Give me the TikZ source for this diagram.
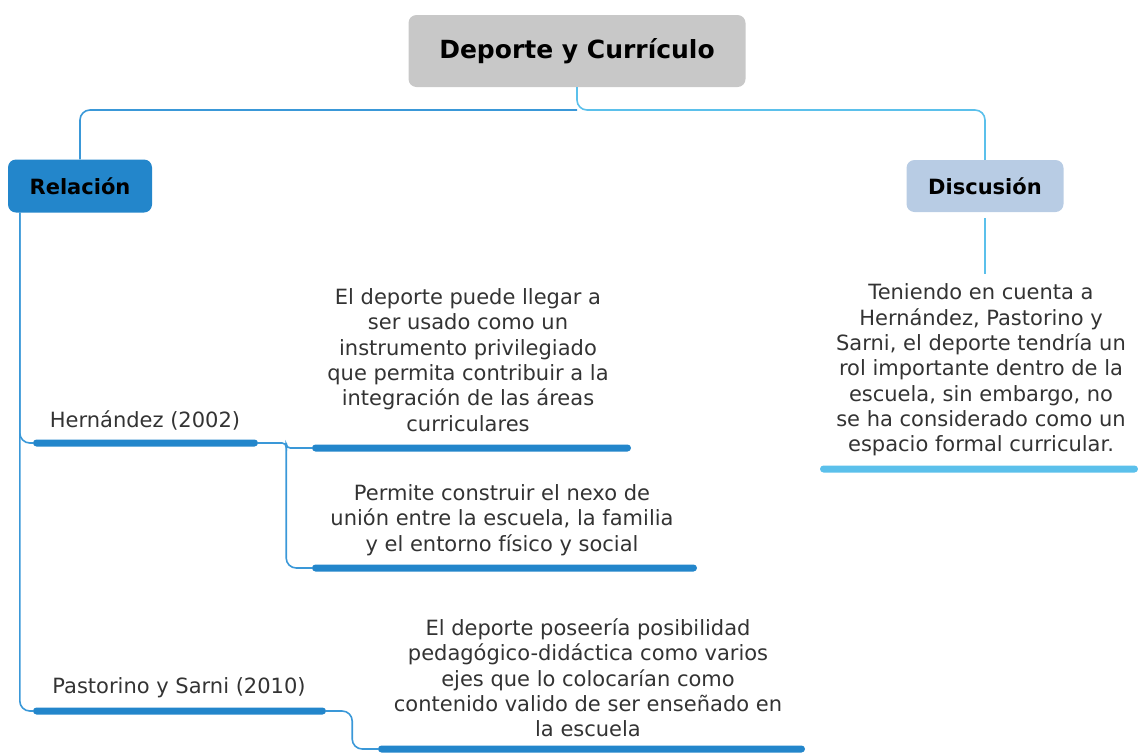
\documentclass[tikz,border=0pt]{standalone}
\usepackage{fontspec}
\setmainfont{DejaVu Sans}
\definecolor{boxgray}{HTML}{C8C8C8}
\definecolor{reldark}{HTML}{2386CB}
\definecolor{dispale}{HTML}{B8CCE4}
\definecolor{linkdark}{HTML}{3A98D8}
\definecolor{linklight}{HTML}{5BC0EB}
\definecolor{txtgray}{HTML}{333333}
\tikzset{
  topic/.style={rounded corners=8pt, inner sep=0pt, text=black,
    font=\bfseries\fontsize{21}{25}\selectfont},
  body/.style={align=center, inner sep=0pt, text=txtgray,
    font=\fontsize{21}{25.3}\selectfont},
  bar/.style={rounded corners=3.5pt, inner sep=0pt, minimum height=7pt},
  dlink/.style={draw=linkdark, line width=1.6pt, rounded corners=10pt},
  llink/.style={draw=linklight, line width=1.6pt, rounded corners=10pt}
}
\begin{document}
\begin{tikzpicture}[x=1pt,y=-1pt]
  \useasboundingbox (0,0) rectangle (1138,753);

  % main boxes
  \node[topic, fill=boxgray, minimum width=337, minimum height=72,
    font=\bfseries\fontsize{25}{29}\selectfont] (root) at (577,51) {Deporte y Currículo};
  \node[topic, fill=reldark, minimum width=144, minimum height=53] (rel) at (80,186) {Relación};
  \node[topic, fill=dispale, minimum width=157, minimum height=52] (dis) at (985,186) {Discusión};

  \coordinate (fork) at (577,110);
  \draw[llink] (root.south) -- (fork) -| (dis.north);
  \draw[dlink] (fork) -| (rel.north);

  % Relacion branch
  \node[body] (hlab) at (145,420) {Hernández (2002)};
  \node[bar, fill=reldark, minimum width=225] (hbar) at (145.5,443) {};
  \node[body] (plab) at (179,688) {Pastorino y Sarni (2010)};
  \node[bar, fill=reldark, minimum width=293] (pbar) at (179.5,711) {};
  \coordinate (relfoot) at ([xshift=12pt]rel.south west);
  \draw[dlink] (relfoot) |- (hbar.west);
  \draw[dlink] (relfoot) |- (pbar.west);

  \node[body] (t1) at (468,360) {El deporte puede llegar a\\ser usado como un\\instrumento privilegiado\\que permita contribuir a la\\integración de las áreas\\curriculares};
  \node[bar, fill=reldark, minimum width=319] (b1) at (471.5,448) {};
  \node[body] (t2) at (502,520) {Permite construir el nexo de\\unión entre la escuela, la familia\\y el entorno físico y social};
  \node[bar, fill=reldark, minimum width=385] (b2) at (504.5,568) {};
  \coordinate (hjoin) at ([xshift=28pt]hbar.east);
  \draw[dlink, rounded corners=4pt] (hbar.east) -- (hjoin) |- (b1.west);
  \draw[dlink] (hjoin) |- (b2.west);

  \node[body] (t3) at (588,678) {El deporte poseería posibilidad\\pedagógico-didáctica como varios\\ejes que lo colocarían como\\contenido valido de ser enseñado en\\la escuela};
  \node[bar, fill=reldark, minimum width=427] (b3) at (591.5,749) {};
  \draw[dlink] (pbar.east) -- ([xshift=26pt]pbar.east) |- (b3.west);

  % Discusion branch
  \node[body] (dtxt) at (981,370) {Teniendo en cuenta a\\Hernández, Pastorino y\\Sarni, el deporte tendría un\\rol importante dentro de la\\escuela, sin embargo, no\\se ha considerado como un\\espacio formal curricular.};
  \node[bar, fill=linklight, minimum width=318] (dbar) at (979,469) {};
  \draw[llink] ([yshift=-6pt]dis.south) -- ([yshift=10pt]dis.south |- dtxt.north);
\end{tikzpicture}
\end{document}
